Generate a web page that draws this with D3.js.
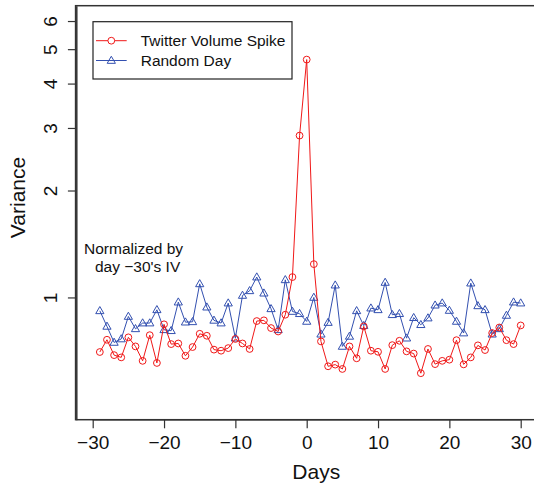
<!DOCTYPE html>
<html>
<head>
<meta charset="utf-8">
<script src="https://cdn.jsdelivr.net/npm/d3@7"></script>
<style>
  html, body { margin: 0; padding: 0; background: #fff; }
  svg { display: block; font-family: "Liberation Sans", Arial, Helvetica, sans-serif; }
</style>
</head>
<body>
<svg id="chart" width="534" height="485"></svg>
<script>
// ---- data ----
const days = d3.range(-29, 31);
const spikeValues = [
  0.702, 0.760, 0.688, 0.678, 0.772, 0.728, 0.663, 0.783, 0.654, 0.840,
  0.739, 0.742, 0.685, 0.725, 0.790, 0.780, 0.713, 0.708, 0.720, 0.764,
  0.742, 0.716, 0.858, 0.862, 0.820, 0.802, 0.894, 1.141, 2.855, 4.673,
  1.241, 0.752, 0.640, 0.647, 0.629, 0.728, 0.674, 0.829, 0.708, 0.703,
  0.629, 0.734, 0.755, 0.705, 0.695, 0.612, 0.716, 0.649, 0.663, 0.668,
  0.758, 0.648, 0.678, 0.733, 0.711, 0.794, 0.823, 0.758, 0.739, 0.834
];
const randomValues = [
  0.917, 0.829, 0.747, 0.764, 0.884, 0.816, 0.847, 0.847, 0.923, 0.811,
  0.806, 0.970, 0.852, 0.854, 1.092, 0.939, 0.862, 0.847, 0.964, 0.768,
  1.013, 1.044, 1.141, 1.028, 0.929, 0.811, 1.121, 0.913, 0.900, 0.856,
  1.000, 0.788, 0.850, 1.083, 0.728, 0.777, 0.917, 0.833, 0.933, 0.923,
  1.102, 0.894, 0.900, 0.768, 0.877, 0.838, 0.875, 0.951, 0.964, 0.919,
  0.856, 0.794, 1.097, 0.947, 0.923, 0.788, 0.816, 0.890, 0.970, 0.964
];
const xTicks = [-30, -20, -10, 0, 10, 20, 30];
const yTicks = [1, 2, 3, 4, 5, 6];
const seriesNames = ["Twitter Volume Spike", "Random Day"];
const xlim = [-30, 30];
const ylim = [0.5, 6];

// ---- layout ----
const svg = d3.select("#chart");
const plot = { left: 76.3, top: 5.7, bottom: 419.7 };
const xpx = 7.1333; // px per day
const x0 = 306.7;
const xExt = (xlim[1] - xlim[0]) * 0.04;
const xDom = [xlim[0] - xExt, xlim[1] + xExt];
const x = d3.scaleLinear().domain(xDom)
  .range([x0 + xDom[0] * xpx, x0 + xDom[1] * xpx]);

const lL = Math.log10(ylim[0]), lH = Math.log10(ylim[1]);
const yExt = (lH - lL) * 0.04;
const y = d3.scaleLog()
  .domain([Math.pow(10, lL - yExt), Math.pow(10, lH + yExt)])
  .range([plot.bottom, plot.top]);

const red = "#f01818";
const blue = "#3350b0";
const axisColor = "#333";

// ---- series ----
const line = d3.line().x(d => x(d[0])).y(d => y(d[1]));
const spike = days.map((d, i) => [d, spikeValues[i]]);
const rand = days.map((d, i) => [d, randomValues[i]]);

const tri = d3.symbol().type(d3.symbolTriangle).size(30);

function drawTriangle(g, cx, cy) {
  // equilateral triangle, pointing up
  const s = 8.2, h = s * Math.sqrt(3) / 2;
  g.append("path")
    .attr("d", `M${cx},${cy - h * 0.6}L${cx + s / 2},${cy + h * 0.4}L${cx - s / 2},${cy + h * 0.4}Z`)
    .attr("fill", "none").attr("stroke", blue).attr("stroke-width", 1);
}

const gRand = svg.append("g");
gRand.append("path").datum(rand).attr("d", line)
  .attr("fill", "none").attr("stroke", blue).attr("stroke-width", 1);
rand.forEach(d => drawTriangle(gRand, x(d[0]), y(d[1])));

const gSpike = svg.append("g");
gSpike.append("path").datum(spike).attr("d", line)
  .attr("fill", "none").attr("stroke", red).attr("stroke-width", 1);
gSpike.selectAll("circle").data(spike).join("circle")
  .attr("cx", d => x(d[0])).attr("cy", d => y(d[1])).attr("r", 3.4)
  .attr("fill", "none").attr("stroke", red).attr("stroke-width", 1);

// ---- box ----
svg.append("rect")
  .attr("x", x.range()[0]).attr("y", plot.top)
  .attr("width", x.range()[1] - x.range()[0])
  .attr("height", plot.bottom - plot.top)
  .attr("fill", "none").attr("stroke", axisColor).attr("stroke-width", 1.5);

// ---- axes ----
const xAxis = svg.append("g")
  .attr("transform", `translate(0,${plot.bottom})`)
  .call(d3.axisBottom(x).tickValues(xTicks).tickSize(8.6).tickSizeOuter(0));
xAxis.select(".domain").attr("stroke", axisColor).attr("stroke-width", 1.5)
  .attr("d", `M${x(xTicks[0])},0H${x(xTicks[xTicks.length - 1])}`);
xAxis.selectAll(".tick line").attr("stroke", axisColor).attr("stroke-width", 1.2);
xAxis.selectAll(".tick text")
  .attr("y", 29.8).attr("dy", 0)
  .attr("fill", "#111")
  .style("font-size", "19px")
  .style("font-family", "'Liberation Sans', Arial, Helvetica, sans-serif");

const yAxis = svg.append("g")
  .attr("transform", `translate(${plot.left},0)`)
  .call(d3.axisLeft(y).tickValues(yTicks).tickFormat(d3.format("d")).tickSize(8.4).tickSizeOuter(0));
yAxis.select(".domain").attr("stroke", axisColor).attr("stroke-width", 1.5);
yAxis.selectAll(".tick line").attr("stroke", axisColor).attr("stroke-width", 1.2);
yAxis.selectAll(".tick text")
  .attr("x", 0).attr("dy", 0)
  .attr("text-anchor", "middle")
  .attr("transform", `translate(${57.2 - plot.left},0) rotate(-90)`)
  .attr("fill", "#111")
  .style("font-size", "19px")
  .style("font-family", "'Liberation Sans', Arial, Helvetica, sans-serif");

// ---- titles ----
svg.append("text")
  .attr("x", 316.3).attr("y", 479.3)
  .attr("text-anchor", "middle")
  .attr("fill", "#111")
  .style("font-size", "21px")
  .text("Days");

svg.append("text")
  .attr("transform", "translate(25,197.5) rotate(-90)")
  .attr("text-anchor", "middle")
  .attr("fill", "#111")
  .style("font-size", "21px")
  .text("Variance");

// ---- annotation ----
svg.append("text")
  .attr("x", 84).attr("y", 254)
  .attr("fill", "#111").style("font-size", "15.5px")
  .text("Normalized by");
svg.append("text")
  .attr("x", 95).attr("y", 272.3)
  .attr("fill", "#111").style("font-size", "15.5px")
  .text("day \u221230's IV");

// ---- legend ----
const lg = svg.append("g");
lg.append("rect")
  .attr("x", 93).attr("y", 21.7).attr("width", 199).attr("height", 57.3)
  .attr("fill", "#fff").attr("stroke", "#222").attr("stroke-width", 1.2);
const legendRows = [
  { name: seriesNames[0], color: red, y: 40.7, mark: "circle" },
  { name: seriesNames[1], color: blue, y: 60.5, mark: "triangle" }
];
legendRows.forEach(r => {
  lg.append("line")
    .attr("x1", 96).attr("x2", 126.7).attr("y1", r.y).attr("y2", r.y)
    .attr("stroke", r.color).attr("stroke-width", 1);
  if (r.mark === "circle") {
    lg.append("circle").attr("cx", 111.3).attr("cy", r.y).attr("r", 3.4)
      .attr("fill", "#fff").attr("stroke", r.color).attr("stroke-width", 1);
  } else {
    drawTriangle(lg, 111.3, r.y);
  }
  lg.append("text")
    .attr("x", 140.7).attr("y", r.y + 5.6)
    .attr("fill", "#111").style("font-size", "15.5px")
    .text(r.name);
});
</script>
</body>
</html>
